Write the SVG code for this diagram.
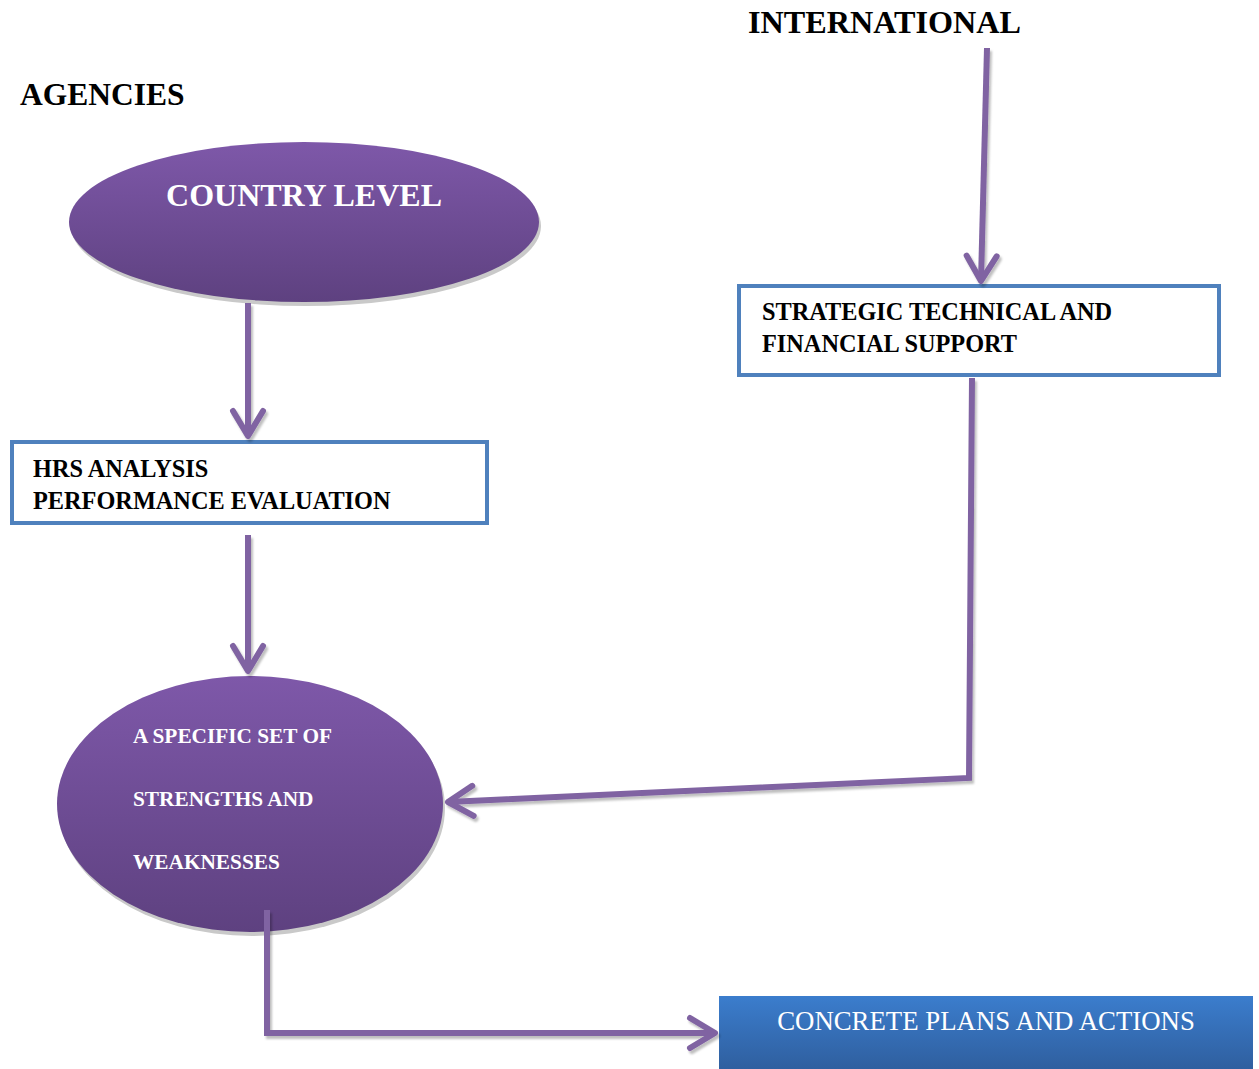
<svg xmlns="http://www.w3.org/2000/svg" width="1259" height="1069" viewBox="0 0 1259 1069">
  <style>
    .lbl { font-family: "Liberation Serif", "Times New Roman", serif; font-weight: bold; fill: #000; }
    .box { fill: #fff; stroke: #4F81BD; stroke-width: 4; }
    .boxtxt { font-family: "Liberation Serif", "Times New Roman", serif; font-weight: bold; font-size: 24.3px; fill: #000; }
    .elltxt { font-family: "Liberation Serif", "Times New Roman", serif; font-weight: bold; fill: #fff; }
    .conn { fill: none; stroke: #8064A2; stroke-width: 6; stroke-linejoin: miter; }
    .shadow { fill: #c9c9c9; }
  </style>
  <defs>
    <linearGradient id="purple" x1="0" y1="0" x2="0" y2="1">
      <stop offset="0" stop-color="#7E58A9"/>
      <stop offset="1" stop-color="#5E4180"/>
    </linearGradient>
    <linearGradient id="blue" x1="0" y1="0" x2="0" y2="1">
      <stop offset="0" stop-color="#3B7DCD"/>
      <stop offset="1" stop-color="#2F5F9F"/>
    </linearGradient>
    <marker id="chev" viewBox="-32 -20 38 40" refX="0" refY="0" markerWidth="38" markerHeight="40" markerUnits="userSpaceOnUse" orient="auto">
      <path d="M-25,-15 L0,0 L-25,15" fill="none" stroke="#8064A2" stroke-width="6" stroke-linecap="round" stroke-linejoin="round"/>
    </marker>
    <filter id="ds" x="-10%" y="-10%" width="120%" height="120%">
      <feDropShadow dx="2" dy="3" stdDeviation="1" flood-color="#000" flood-opacity="0.25"/>
    </filter>
  </defs>

  <rect width="1259" height="1069" fill="#fff"/>

  <g id="label-international">
    <text class="lbl" x="748" y="33" font-size="32.2">INTERNATIONAL</text>
  </g>
  <g id="label-agencies">
    <text class="lbl" x="20" y="105" font-size="31.5">AGENCIES</text>
  </g>

  <g id="country-level">
    <ellipse class="shadow" cx="306" cy="226" rx="235" ry="80"/>
    <ellipse cx="304" cy="222" rx="235" ry="80" fill="url(#purple)"/>
    <text class="elltxt" x="304" y="206" font-size="32" text-anchor="middle">COUNTRY LEVEL</text>
  </g>

  <g id="hrs-analysis">
    <rect class="box" x="12" y="442" width="475" height="81"/>
    <text class="boxtxt" x="33" y="477">HRS ANALYSIS</text>
    <text class="boxtxt" x="33" y="509">PERFORMANCE EVALUATION</text>
  </g>

  <g id="strengths-weaknesses">
    <ellipse class="shadow" cx="252" cy="808" rx="193" ry="128"/>
    <ellipse cx="250" cy="804" rx="193" ry="128" fill="url(#purple)"/>
    <text class="elltxt" x="133" y="743" font-size="21.3">A SPECIFIC SET OF</text>
    <text class="elltxt" x="133" y="806" font-size="21.3">STRENGTHS AND</text>
    <text class="elltxt" x="133" y="869" font-size="21.3">WEAKNESSES</text>
  </g>

  <g id="strategic-support">
    <rect class="box" x="739" y="286" width="480" height="89"/>
    <text class="boxtxt" x="762" y="320">STRATEGIC TECHNICAL AND</text>
    <text class="boxtxt" x="762" y="352">FINANCIAL SUPPORT</text>
  </g>

  <g id="concrete-plans">
    <rect x="719" y="996" width="534" height="73" fill="url(#blue)"/>
    <text x="986" y="1030" font-family="Liberation Serif, 'Times New Roman', serif" font-size="26.8" fill="#fff" text-anchor="middle">CONCRETE PLANS AND ACTIONS</text>
  </g>

  <g id="connectors" filter="url(#ds)">
    <path class="conn" d="M248,303 L248,436" marker-end="url(#chev)"/>
    <path class="conn" d="M248,535 L248,671" marker-end="url(#chev)"/>
    <path class="conn" d="M987,48 L981,281" marker-end="url(#chev)"/>
    <path class="conn" d="M972,378 L969,778 L448,802" marker-end="url(#chev)"/>
    <path class="conn" d="M267,910 L267,1033 L715,1033" marker-end="url(#chev)"/>
  </g>
</svg>
